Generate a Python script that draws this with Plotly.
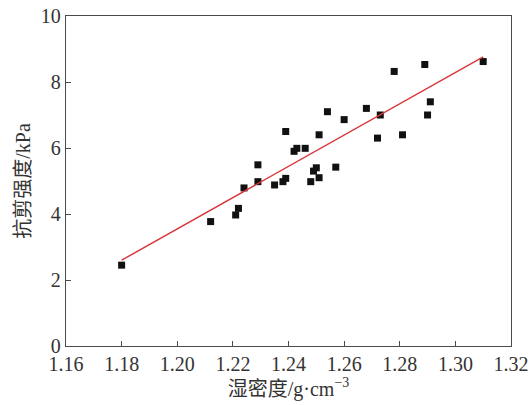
import numpy as np
import plotly.graph_objects as go

density = [1.180, 1.212, 1.221, 1.222, 1.224, 1.229, 1.229, 1.235, 1.238, 1.239,
           1.239, 1.242, 1.243, 1.246, 1.248, 1.249, 1.250, 1.251, 1.251, 1.254,
           1.257, 1.260, 1.268, 1.272, 1.273, 1.278, 1.281, 1.289, 1.290, 1.291, 1.310]
strength = [2.45, 3.77, 3.97, 4.17, 4.79, 4.98, 5.49, 4.88, 4.98, 5.08,
            6.50, 5.90, 5.99, 5.99, 4.98, 5.30, 5.40, 5.10, 6.40, 7.10,
            5.42, 6.86, 7.20, 6.30, 7.00, 8.32, 6.40, 8.53, 7.00, 7.40, 8.62]

fit_x = [1.18, 1.31]
fit_slope = 47.4
fit_intercept = 2.6 - 47.4 * 1.18
fit_y = [fit_slope * v + fit_intercept for v in fit_x]

xticks = [1.16, 1.18, 1.20, 1.22, 1.24, 1.26, 1.28, 1.30, 1.32]
xtick_labels = ["%.2f" % v for v in xticks]
yticks = [0, 2, 4, 6, 8, 10]

font_fam = "Liberation Serif, Times New Roman, Noto Sans CJK SC, serif"

fig = go.Figure()
fig.add_trace(go.Scatter(x=density, y=strength, mode="markers",
                         marker=dict(symbol="square", size=7, color="#111111"),
                         showlegend=False, cliponaxis=False))
fig.add_trace(go.Scatter(x=fit_x, y=fit_y, mode="lines",
                         line=dict(color="#d8383c", width=1.5), showlegend=False))

axis_common = dict(showline=True, linecolor="#4a4a4a", linewidth=1.4, mirror=True,
                   ticks="inside", ticklen=5, tickwidth=1.2, tickcolor="#4a4a4a",
                   showgrid=False, zeroline=False, automargin=False,
                   tickfont=dict(family=font_fam, size=20, color="#333333"))

fig.update_layout(
    width=529, height=405,
    margin=dict(l=66, r=18, t=16, b=59, autoexpand=False),
    paper_bgcolor="white", plot_bgcolor="white",
    font=dict(family=font_fam, color="#333333"),
    xaxis=dict(range=[1.16, 1.32], tickvals=xticks, ticktext=xtick_labels,
               title=dict(text="湿密度/g·cm<sup>−3</sup>", font=dict(family=font_fam, size=20, color="#333333"), standoff=2),
               **axis_common),
    yaxis=dict(range=[0, 10], tickvals=yticks,
               title=dict(text="抗剪强度/kPa", font=dict(family=font_fam, size=20, color="#333333"), standoff=4),
               **axis_common),
)
fig.write_html("out.html", config={"displayModeBar": False},
               post_script="document.body.style.margin='0';document.body.style.overflow='hidden';")
